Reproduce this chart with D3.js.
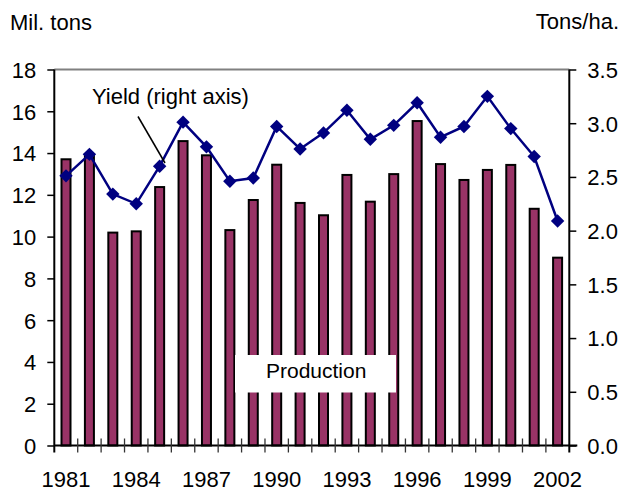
<!DOCTYPE html>
<html>
<head>
<meta charset="utf-8">
<script src="https://cdn.jsdelivr.net/npm/d3@7"></script>
<style>
  html, body { margin: 0; padding: 0; background: #fff; }
  svg { display: block; font-family: "Liberation Sans", Arial, sans-serif; }
</style>
</head>
<body>
<svg id="chart" width="622" height="491"></svg>
<script>
// ---- Data ----
const years = [1981,1982,1983,1984,1985,1986,1987,1988,1989,1990,1991,1992,1993,1994,1995,1996,1997,1998,1999,2000,2001,2002];
const production = [13.75,14.0,10.24,10.3,12.42,14.62,13.94,10.36,11.8,13.49,11.66,11.07,13.0,11.72,13.04,15.58,13.52,12.76,13.24,13.48,11.38,9.04];
const yieldVals = [2.51,2.71,2.34,2.25,2.60,3.01,2.78,2.46,2.49,2.97,2.76,2.91,3.12,2.85,2.98,3.19,2.87,2.97,3.25,2.95,2.69,2.09];
const leftTicks = [0,2,4,6,8,10,12,14,16,18];
const rightTicks = [0,0.5,1.0,1.5,2.0,2.5,3.0,3.5];
const xLabelYears = [1981,1984,1987,1990,1993,1996,1999,2002];

// ---- Layout ----
const svg = d3.select("#chart");
const L = 54.3, R = 569.3, T = 69.5, B = 445.5;
const FS = 22;

const x = d3.scaleBand().domain(years).range([L, R]).paddingInner(0.53).paddingOuter(0.265);
const yL = d3.scaleLinear().domain([0, 18]).range([B, T]);
const yR = d3.scaleLinear().domain([0, 3.5]).range([B, T]);

// Top border of plot area
svg.append("line").attr("x1", L).attr("x2", R).attr("y1", T).attr("y2", T)
  .attr("stroke", "#808080").attr("stroke-width", 2);

// Bars
svg.append("g").selectAll("rect").data(years).join("rect")
  .attr("x", (d) => x(d) + 1)
  .attr("width", x.bandwidth() - 2)
  .attr("y", (d, i) => yL(production[i]) + 1)
  .attr("height", (d, i) => B - yL(production[i]) - 1)
  .attr("fill", "#993366")
  .attr("stroke", "#000")
  .attr("stroke-width", 2);

// Left axis
const gL = svg.append("g").attr("transform", `translate(${L},0)`)
  .call(d3.axisLeft(yL).tickValues(leftTicks).tickSize(7).tickPadding(11).tickFormat(d3.format("d")));
gL.select(".domain").remove();
gL.selectAll(".tick line").attr("stroke", "#000").attr("stroke-width", 1.5);
gL.selectAll(".tick text").attr("font-size", FS).attr("fill", "#000").attr("dy", "0.36em")
  .attr("font-family", "Liberation Sans, Arial, sans-serif");
svg.append("line").attr("x1", L).attr("x2", L).attr("y1", T).attr("y2", B + 7)
  .attr("stroke", "#000").attr("stroke-width", 2);

// Right axis
const gR = svg.append("g").attr("transform", `translate(${R},0)`)
  .call(d3.axisRight(yR).tickValues(rightTicks).tickSize(7).tickPadding(11).tickFormat(d3.format(".1f")));
gR.select(".domain").remove();
gR.selectAll(".tick line").attr("stroke", "#000").attr("stroke-width", 1.5);
gR.selectAll(".tick text").attr("font-size", FS).attr("fill", "#000").attr("dy", "0.36em")
  .attr("font-family", "Liberation Sans, Arial, sans-serif");
svg.append("line").attr("x1", R).attr("x2", R).attr("y1", T).attr("y2", B + 7)
  .attr("stroke", "#000").attr("stroke-width", 2);

// X axis baseline and crossing ticks at category boundaries
svg.append("line").attr("x1", L).attr("x2", R + 8).attr("y1", B).attr("y2", B)
  .attr("stroke", "#000").attr("stroke-width", 2);
const step = x.step();
const boundaries = years.map((d) => x(d) - (step - x.bandwidth()) / 2).concat([R]);
svg.append("g").selectAll("line").data(boundaries.slice(1, -1)).join("line")
  .attr("x1", (d) => d).attr("x2", (d) => d)
  .attr("y1", B - 7).attr("y2", B + 7)
  .attr("stroke", "#333").attr("stroke-width", 1.3);

// X labels
svg.append("g").selectAll("text").data(xLabelYears).join("text")
  .attr("x", (d) => x(d) + x.bandwidth() / 2)
  .attr("y", 487)
  .attr("text-anchor", "middle")
  .attr("font-size", FS)
  .text((d) => d);

// Yield line
const line = d3.line()
  .x((d, i) => x(years[i]) + x.bandwidth() / 2)
  .y((d) => yR(d));
svg.append("path").datum(yieldVals)
  .attr("d", line)
  .attr("fill", "none")
  .attr("stroke", "#000080")
  .attr("stroke-width", 2.5);

const diamond = d3.symbol().type(d3.symbolSquare).size(90);
svg.append("g").selectAll("path").data(yieldVals).join("path")
  .attr("d", diamond)
  .attr("transform", (d, i) => `translate(${x(years[i]) + x.bandwidth() / 2},${yR(d)}) rotate(45)`)
  .attr("fill", "#000080");

// Axis titles
svg.append("text").attr("x", 10).attr("y", 30).attr("font-size", FS).text("Mil. tons");
svg.append("text").attr("x", 619).attr("y", 29).attr("font-size", FS).attr("text-anchor", "end").text("Tons/ha.");

// Yield annotation
svg.append("text").attr("x", 92).attr("y", 104).attr("font-size", FS).text("Yield (right axis)");
svg.append("line").attr("x1", 138).attr("y1", 116.5).attr("x2", 165).attr("y2", 163)
  .attr("stroke", "#000").attr("stroke-width", 1.5);

// Production label
svg.append("rect").attr("x", 235).attr("y", 355).attr("width", 161).attr("height", 37.5).attr("fill", "#fff");
svg.append("text").attr("x", 266).attr("y", 377.5).attr("font-size", 21).text("Production");
</script>
</body>
</html>
